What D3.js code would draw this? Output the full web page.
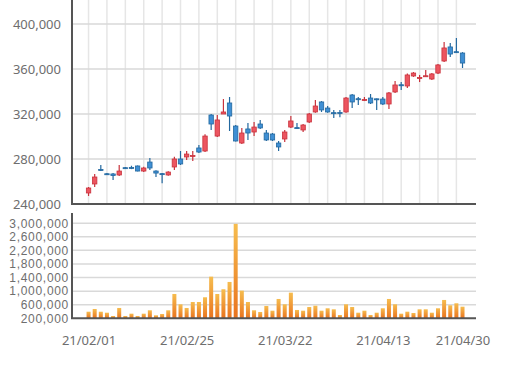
<!DOCTYPE html>
<html><head><meta charset="utf-8">
<script src="https://cdn.jsdelivr.net/npm/d3@7"></script>
<style>body{margin:0;background:#fff}svg{display:block}text{font-family:"Noto Sans",sans-serif}</style>
</head><body><svg id="c" width="512" height="368"></svg>
<script>
const dates = ["21/02/01","21/02/02","21/02/03","21/02/04","21/02/05","21/02/08","21/02/09","21/02/10","21/02/15","21/02/16","21/02/17","21/02/18","21/02/19","21/02/22","21/02/23","21/02/24","21/02/25","21/02/26",
"21/03/02","21/03/03","21/03/04","21/03/05","21/03/08","21/03/09","21/03/10","21/03/11","21/03/12","21/03/15","21/03/16","21/03/17","21/03/18","21/03/19","21/03/22","21/03/23","21/03/24","21/03/25","21/03/26","21/03/29","21/03/30","21/03/31",
"21/04/01","21/04/02","21/04/05","21/04/06","21/04/07","21/04/08","21/04/09","21/04/12","21/04/13","21/04/14","21/04/15","21/04/16","21/04/19","21/04/20","21/04/21","21/04/22","21/04/23","21/04/26","21/04/27","21/04/28","21/04/29","21/04/30"];
const open  = [249800,257800,270700,266900,266700,265800,272300,272400,273800,269300,277300,269300,267000,265800,272900,280000,281800,282300,289800,287100,319100,300400,320000,329800,309300,294200,306700,304000,311100,303100,302200,294200,297800,308400,307900,305800,312900,321800,330700,325300,321200,321300,321800,336900,333600,332000,334200,333500,333300,328900,339600,346000,344900,353800,351800,353500,351100,356400,367100,379600,375400,374200];
const close = [254200,264000,269800,266200,265300,269300,271800,271600,269300,272000,272000,267500,266300,268400,280000,275600,284400,283100,286200,300400,311100,314700,321800,318200,296000,303100,303100,308400,307600,296900,296900,290700,304000,313800,307300,310200,320000,327100,323600,321800,320600,320700,334200,330700,333000,332800,329800,333000,328900,338700,345800,345400,354700,356400,352400,354000,355600,363600,378700,373300,374700,365300];
const high  = [255100,266700,274700,267500,267500,274700,272900,274000,274200,273000,280900,270000,267600,269000,282000,287100,287100,287100,292400,302000,320000,319100,333300,335100,310200,307600,312000,312900,314700,305800,303100,296000,305800,318200,312000,311000,320900,332400,331500,327100,323600,323500,335000,337800,335100,335100,337800,333800,335100,339600,349300,348400,356000,357300,354700,359100,356400,364400,384000,383100,387600,375000];
const low   = [247100,255100,269300,265800,261300,264900,271300,271000,269000,268500,270200,264000,258500,265000,270200,274700,279100,278200,285300,286200,305800,299500,320000,304900,295500,293300,296900,300400,306700,296000,296000,287100,295100,307600,306700,304000,312000,321000,321800,321000,316400,317000,321000,325300,328000,331500,328900,323600,328000,324400,338700,341300,343100,353000,348400,353000,350200,355600,366200,370700,374200,360900];
const volume = [394000,474000,394000,365000,268000,504000,268000,336000,268000,336000,436000,288000,327000,436000,916000,612000,504000,680000,680000,819000,1426000,916000,1055000,1270000,2979000,1015000,680000,436000,386000,563000,424000,769000,612000,955000,445000,424000,533000,571000,424000,495000,465000,297000,612000,533000,365000,424000,297000,365000,495000,769000,612000,336000,395000,356000,465000,465000,365000,495000,740000,583000,642000,542000];
const priceTicks = [240000,280000,320000,360000,400000];
const volumeTicks = [200000,600000,1000000,1400000,1800000,2200000,2600000,3000000];
const labelIdx = [0,16,32,48,61];

const svg = d3.select("#c");
const x = d3.scaleLinear().domain([-2.7, 63.2]).range([72, 476]);
const yP = d3.scaleLinear().domain([240000, 421333]).range([204, 0]);
const yV = d3.scaleLinear().domain([200000, 3300000]).range([318.3, 213]);
const idx = d3.range(dates.length);
const fmt = d3.format(",");

const g0 = svg.append("defs").append("linearGradient").attr("id","vg").attr("x1",0).attr("y1",0).attr("x2",0).attr("y2",1);
g0.append("stop").attr("offset","0%").attr("stop-color","#f6bd4f");
g0.append("stop").attr("offset","100%").attr("stop-color","#e9731e");

const gTop = svg.append("g");
gTop.selectAll(".vg").data(idx.filter(i=>i%3===0)).join("line")
  .attr("x1",d=>x(d)).attr("x2",d=>x(d)).attr("y1",0).attr("y2",204)
  .attr("stroke","#e6e6e6").attr("stroke-width",1.5);
gTop.selectAll(".hg").data(priceTicks.slice(1)).join("line")
  .attr("x1",72).attr("x2",476).attr("y1",d=>yP(d)).attr("y2",d=>yP(d))
  .attr("stroke","#d9d9d9").attr("stroke-width",1.5);

const ay = d3.axisLeft(yP).tickValues(priceTicks).tickFormat(fmt).tickSize(0).tickPadding(11);
const gy = gTop.append("g").attr("transform","translate(72,0)").call(ay);
gy.select(".domain").remove();
gy.selectAll("text").attr("fill","#6e6e6e").style("font-size","13px");
gTop.append("line").attr("x1",72).attr("x2",72).attr("y1",0).attr("y2",205).attr("stroke","#555").attr("stroke-width",2);
gTop.append("line").attr("x1",71).attr("x2",476).attr("y1",204).attr("y2",204).attr("stroke","#555").attr("stroke-width",2);

const up = "#ec5560", upS = "#c9323c", dn = "#3f8fd4", dnS = "#23689f";
const cg = gTop.append("g");
cg.selectAll(".wick").data(idx).join("line")
  .attr("x1",i=>x(i)).attr("x2",i=>x(i)).attr("y1",i=>yP(high[i])).attr("y2",i=>yP(low[i]))
  .attr("stroke",i=>close[i]>=open[i]?upS:dnS).attr("stroke-width",1.2);
cg.selectAll(".body").data(idx).join("rect")
  .attr("x",i=>x(i)-2.2).attr("width",4.4)
  .attr("y",i=>yP(Math.max(open[i],close[i])))
  .attr("height",i=>Math.max(1, yP(Math.min(open[i],close[i]))-yP(Math.max(open[i],close[i]))))
  .attr("fill",i=>close[i]>=open[i]?up:dn)
  .attr("stroke",i=>close[i]>=open[i]?upS:dnS).attr("stroke-width",0.8);

const gBot = svg.append("g");
gBot.selectAll(".hg").data(volumeTicks.slice(1)).join("line")
  .attr("x1",72).attr("x2",476).attr("y1",d=>yV(d)).attr("y2",d=>yV(d))
  .attr("stroke","#d9d9d9").attr("stroke-width",1.5);
const av = d3.axisLeft(yV).tickValues(volumeTicks).tickFormat(fmt).tickSize(0).tickPadding(3);
const gv = gBot.append("g").attr("transform","translate(72,0)").call(av);
gv.select(".domain").remove();
gv.selectAll("text").attr("fill","#6e6e6e")
  .style("font-family","'Liberation Sans',sans-serif").style("font-size","12px").style("letter-spacing","0.7px");
gBot.selectAll(".bar").data(idx).join("rect")
  .attr("x",i=>x(i)-2).attr("width",4)
  .attr("y",i=>yV(volume[i])).attr("height",i=>yV.range()[0]-yV(volume[i]))
  .attr("fill","url(#vg)");
gBot.append("line").attr("x1",72).attr("x2",72).attr("y1",213).attr("y2",319).attr("stroke","#555").attr("stroke-width",2);
gBot.append("line").attr("x1",71).attr("x2",476).attr("y1",318.3).attr("y2",318.3).attr("stroke","#555").attr("stroke-width",2);

const ax = d3.axisBottom(x).tickValues(labelIdx).tickFormat(i=>dates[i]).tickSize(0).tickPadding(0);
const gx = svg.append("g").attr("transform","translate(0,336)").call(ax);
gx.select(".domain").remove();
gx.selectAll("text").attr("fill","#6e6e6e").style("font-size","13px");
</script></body></html>
